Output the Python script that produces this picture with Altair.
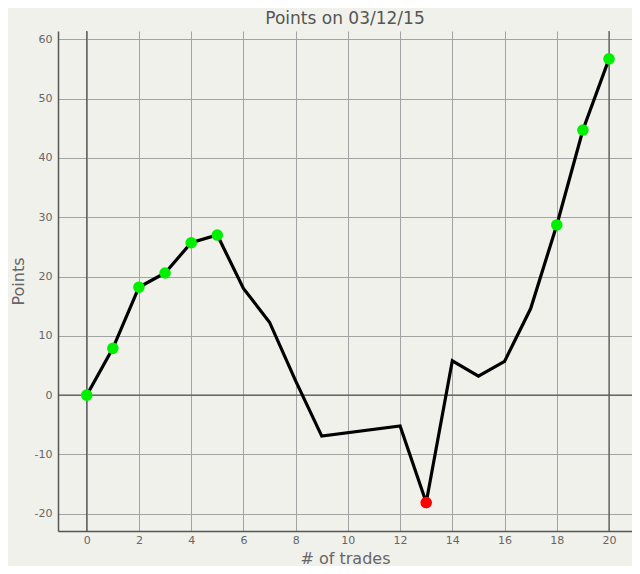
import altair as alt
import pandas as pd

trades = [0, 1, 2, 3, 4, 5, 6, 7, 8, 9, 12, 13, 14, 15, 16, 17, 18, 19, 20]
points = [0, 7.9, 18.2, 20.6, 25.7, 27.0, 18.0, 12.3, 2.4, -6.9, -5.2, -18.1, 5.8, 3.2, 5.7, 14.6, 28.7, 44.7, 56.7]
marker = ["green", "green", "green", "green", "green", "green", "", "", "", "", "", "red", "", "", "", "", "green", "green", "green"]

zero_x = [0, 20]
zero_y = [0]

df = pd.DataFrame({"trades": trades, "points": points, "marker": marker})
pts = df[df["marker"] != ""]

xs = alt.Scale(domain=[-1.1, 20.88], nice=False, zero=False)
ys = alt.Scale(domain=[-22.9, 61.4], nice=False, zero=False)

x_axis = alt.Axis(values=list(range(0, 21, 2)), title="# of trades", grid=True,
                  labelExpr="'' + datum.value")
y_axis = alt.Axis(values=list(range(-20, 61, 10)), title="Points", grid=True,
                  labelExpr="'' + datum.value")

vrules = alt.Chart(pd.DataFrame({"x": zero_x})).mark_rule(color="#555555", strokeWidth=1.2).encode(
    x=alt.X("x:Q", scale=xs, axis=x_axis)
)
hrules = alt.Chart(pd.DataFrame({"y": zero_y})).mark_rule(color="#555555", strokeWidth=1.2).encode(
    y=alt.Y("y:Q", scale=ys, axis=y_axis)
)

line = alt.Chart(df).mark_line(color="black", strokeWidth=3.2).encode(
    x=alt.X("trades:Q", scale=xs, axis=x_axis),
    y=alt.Y("points:Q", scale=ys, axis=y_axis),
)

dots = alt.Chart(pts).mark_point(filled=True, size=135, opacity=1, shape="circle").encode(
    x=alt.X("trades:Q", scale=xs, axis=x_axis),
    y=alt.Y("points:Q", scale=ys, axis=y_axis),
    color=alt.Color("marker:N", scale=alt.Scale(domain=["green", "red"], range=["#00f000", "#ff0000"]), legend=None),
)

chart = alt.layer(vrules, hrules, line, dots).properties(
    width=574,
    height=500,
    title=alt.Title("Points on 03/12/15", fontSize=17, font="DejaVu Sans", fontWeight="normal", color="#555555", offset=2),
    autosize=alt.AutoSizeParams(type="none"),
    padding={"left": 50, "top": 23, "right": 0, "bottom": 35},
    background="#f1f1ec",
).configure_view(
    fill="#f1f1ec", stroke=None
).configure_axis(
    gridColor="#a3a3a3",
    gridWidth=1,
    domainColor="#555555",
    domainWidth=1.5,
    ticks=False,
    labelColor="#666666",
    labelFont="DejaVu Sans",
    labelFontSize=11,
    titleFont="DejaVu Sans",
    titleFontSize=16,
    titleFontWeight="normal",
    titleColor="#666666",
).configure_axisX(titlePadding=5, labelPadding=3).configure_axisY(titlePadding=8, labelPadding=6)

chart.save("out.html", embed_options={"renderer": "svg", "actions": False})
